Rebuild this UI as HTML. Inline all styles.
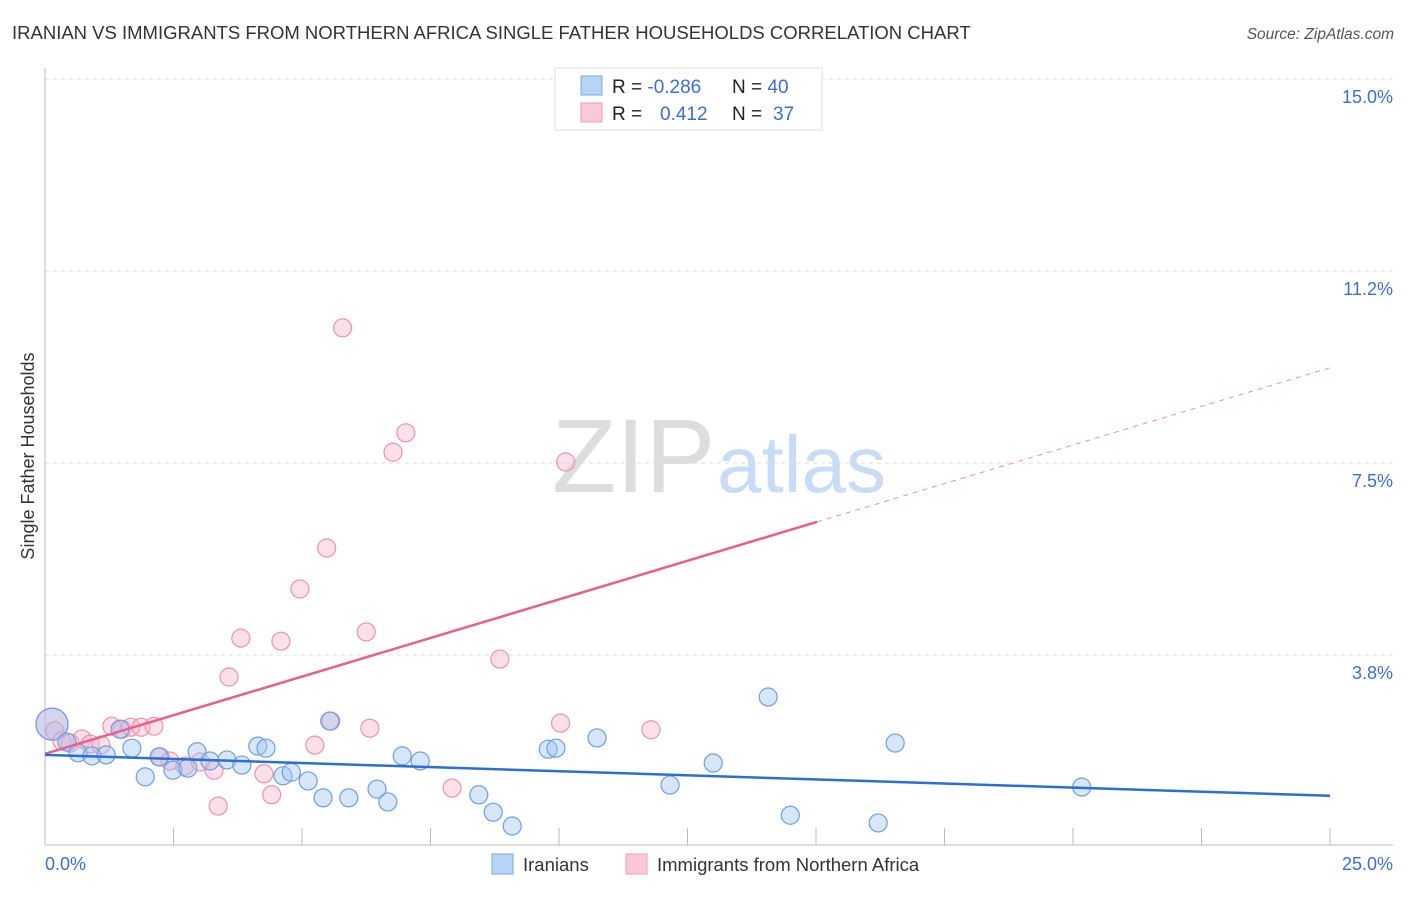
<!DOCTYPE html>
<html><head><meta charset="utf-8"><style>
body{margin:0;background:#fff;font-family:"Liberation Sans",sans-serif;}
svg text{font-family:"Liberation Sans",sans-serif;}
</style></head><body>
<svg id="chart" width="1406" height="892" viewBox="0 0 1406 892">
<text x="12" y="39" font-size="18.5" fill="#333">IRANIAN VS IMMIGRANTS FROM NORTHERN AFRICA SINGLE FATHER HOUSEHOLDS CORRELATION CHART</text>
<text x="1394" y="39" font-size="15.5" fill="#555" font-style="italic" text-anchor="end">Source: ZipAtlas.com</text>
<g>
<text x="552" y="492" font-size="105" fill="#ddd" font-family="Liberation Serif">ZIP</text>
<text x="717" y="492" font-size="80" fill="#c9dcf5">atlas</text>
</g>
<g id="grid"></g>
<g id="axes"></g>
<g id="marks"></g>
<text transform="translate(34,456) rotate(-90)" font-size="18" fill="#333" text-anchor="middle">Single Father Households</text>
<g>
<rect x="555" y="68" width="267" height="62" fill="#fff" stroke="#ddd"/>
<rect x="581" y="76" width="21" height="19" fill="#b9d3f5" stroke="#7ba7e6"/>
<rect x="581" y="103" width="21" height="19" fill="#fac8d7" stroke="#ee9fb8"/>
<text x="612" y="93" font-size="19" fill="#222">R = <tspan fill="#3a6fd0">-0.286</tspan></text>
<text x="732" y="93" font-size="19" fill="#222">N = <tspan fill="#3a6fd0">40</tspan></text>
<text x="612" y="120" font-size="19" fill="#222">R = <tspan fill="#3a6fd0" x="660">0.412</tspan></text>
<text x="732" y="120" font-size="19" fill="#222">N = <tspan fill="#3a6fd0" x="773">37</tspan></text>
</g>
<g>
<rect x="492" y="854" width="21" height="20" fill="#b9d3f5" stroke="#7ba7e6"/>
<text x="523" y="871" font-size="18.5" fill="#333">Iranians</text>
<rect x="626" y="854" width="21" height="20" fill="#fac8d7" stroke="#ee9fb8"/>
<text x="657" y="871" font-size="18.5" fill="#333">Immigrants from Northern Africa</text>
</g>
</svg>
<script>
const yTicks=[3.75,7.5,11.25,15.0];
const yTickLabels=["3.8%","7.5%","11.2%","15.0%"];
const xTickValues=[0,2.5,5,7.5,10,12.5,15,17.5,20,22.5,25];
const blueX=[0.136,0.428,0.642,0.914,1.19,1.46,1.69,1.95,2.22,2.49,2.78,2.96,3.21,3.54,3.83,4.14,4.30,4.63,4.79,5.12,5.41,5.54,5.91,6.46,6.67,6.95,7.30,8.44,8.72,9.09,9.79,9.94,10.74,12.16,13.00,14.07,14.50,16.21,16.54,20.17];
const blueY=[2.40,2.05,1.84,1.78,1.80,2.30,1.93,1.37,1.76,1.50,1.54,1.86,1.68,1.70,1.60,1.97,1.93,1.39,1.46,1.29,0.96,2.46,0.96,1.13,0.88,1.78,1.68,1.02,0.68,0.41,1.91,1.93,2.13,1.21,1.64,2.93,0.62,0.47,2.03,1.17];
const pinkX=[0.136,0.19,0.33,0.49,0.72,0.88,1.09,1.30,1.50,1.67,1.87,2.12,2.24,2.43,2.72,3.02,3.29,3.37,3.58,3.81,4.26,4.41,4.59,4.96,5.25,5.48,5.56,5.79,6.25,6.32,6.77,7.02,7.92,8.85,10.03,10.13,11.79];
const pinkY=[2.40,2.27,2.07,2.03,2.11,2.01,1.99,2.36,2.30,2.34,2.34,2.36,1.76,1.68,1.58,1.66,1.50,0.80,3.32,4.08,1.43,1.02,4.02,5.04,1.99,5.84,2.46,10.14,4.20,2.32,7.71,8.09,1.15,3.67,2.42,7.52,2.29];
const blueTrend=[1.80,1.00];
const pinkTrend=[1.82,9.36];
const pinkSolidEnd=15.02;
const X=v=>45+v/25*1285;
const Y=v=>847-v/15*768;
const NS="http://www.w3.org/2000/svg";
function mk(parent,tag,attrs){const e=document.createElementNS(NS,tag);for(const k in attrs)e.setAttribute(k,attrs[k]);document.getElementById(parent).appendChild(e);return e;}
yTicks.forEach((t,i)=>{
 const l=mk('grid','line',{x1:45,x2:1393,y1:Y(t),y2:Y(t),stroke:'#ddd','stroke-dasharray':'4,4'});
 
 
 const tx=mk('grid','text',{x:1393,y:Y(t)+24,'font-size':18,fill:'#3a6fd0','text-anchor':'end'});
 tx.textContent=yTickLabels[i];
 
 
});
let a=mk('axes','line',{x1:45,x2:45,y1:68,y2:845,stroke:'#bbb'});


a=mk('axes','line',{x1:45,x2:1393,y1:845,y2:845,stroke:'#bbb'});


xTickValues.forEach(v=>{
 const t=mk('axes','line',{x1:X(v),x2:X(v),y1:828,y2:845,stroke:'#bbb'});
 
 
});
let t=mk('axes','text',{x:45,y:870,'font-size':18,fill:'#3a6fd0'});t.textContent='0.0%';


t=mk('axes','text',{x:1393,y:870,'font-size':18,fill:'#3a6fd0','text-anchor':'end'});t.textContent='25.0%';


function pts(xs,ys,fill,stroke,name){
 xs.forEach((x,i)=>{
  const big=i===0;
  const c=mk('marks','circle',{cx:X(x),cy:Y(ys[i]),r:big?16:9,fill:fill,stroke:stroke,'stroke-width':1.2});
  
  
 });
}
pts(pinkX,pinkY,'rgba(246,182,202,0.42)','#eb93ae','immigrants-point');
pts(blueX,blueY,'rgba(160,196,240,0.42)','#6d9fe2','iranians-point');
const pinkAt=v=>pinkTrend[0]+(pinkTrend[1]-pinkTrend[0])*v/25;
let tl=mk('marks','line',{x1:X(0),y1:Y(pinkTrend[0]),x2:X(pinkSolidEnd),y2:Y(pinkAt(pinkSolidEnd)),stroke:'#e8608a','stroke-width':2.5});


tl=mk('marks','line',{x1:X(pinkSolidEnd),y1:Y(pinkAt(pinkSolidEnd)),x2:X(25),y2:Y(pinkTrend[1]),stroke:'#e8608a','stroke-width':1,'stroke-dasharray':'5,5',opacity:0.7});


tl=mk('marks','line',{x1:X(0),y1:Y(blueTrend[0]),x2:X(25),y2:Y(blueTrend[1]),stroke:'#2a6fd6','stroke-width':2.5});


</script>
</body></html>
